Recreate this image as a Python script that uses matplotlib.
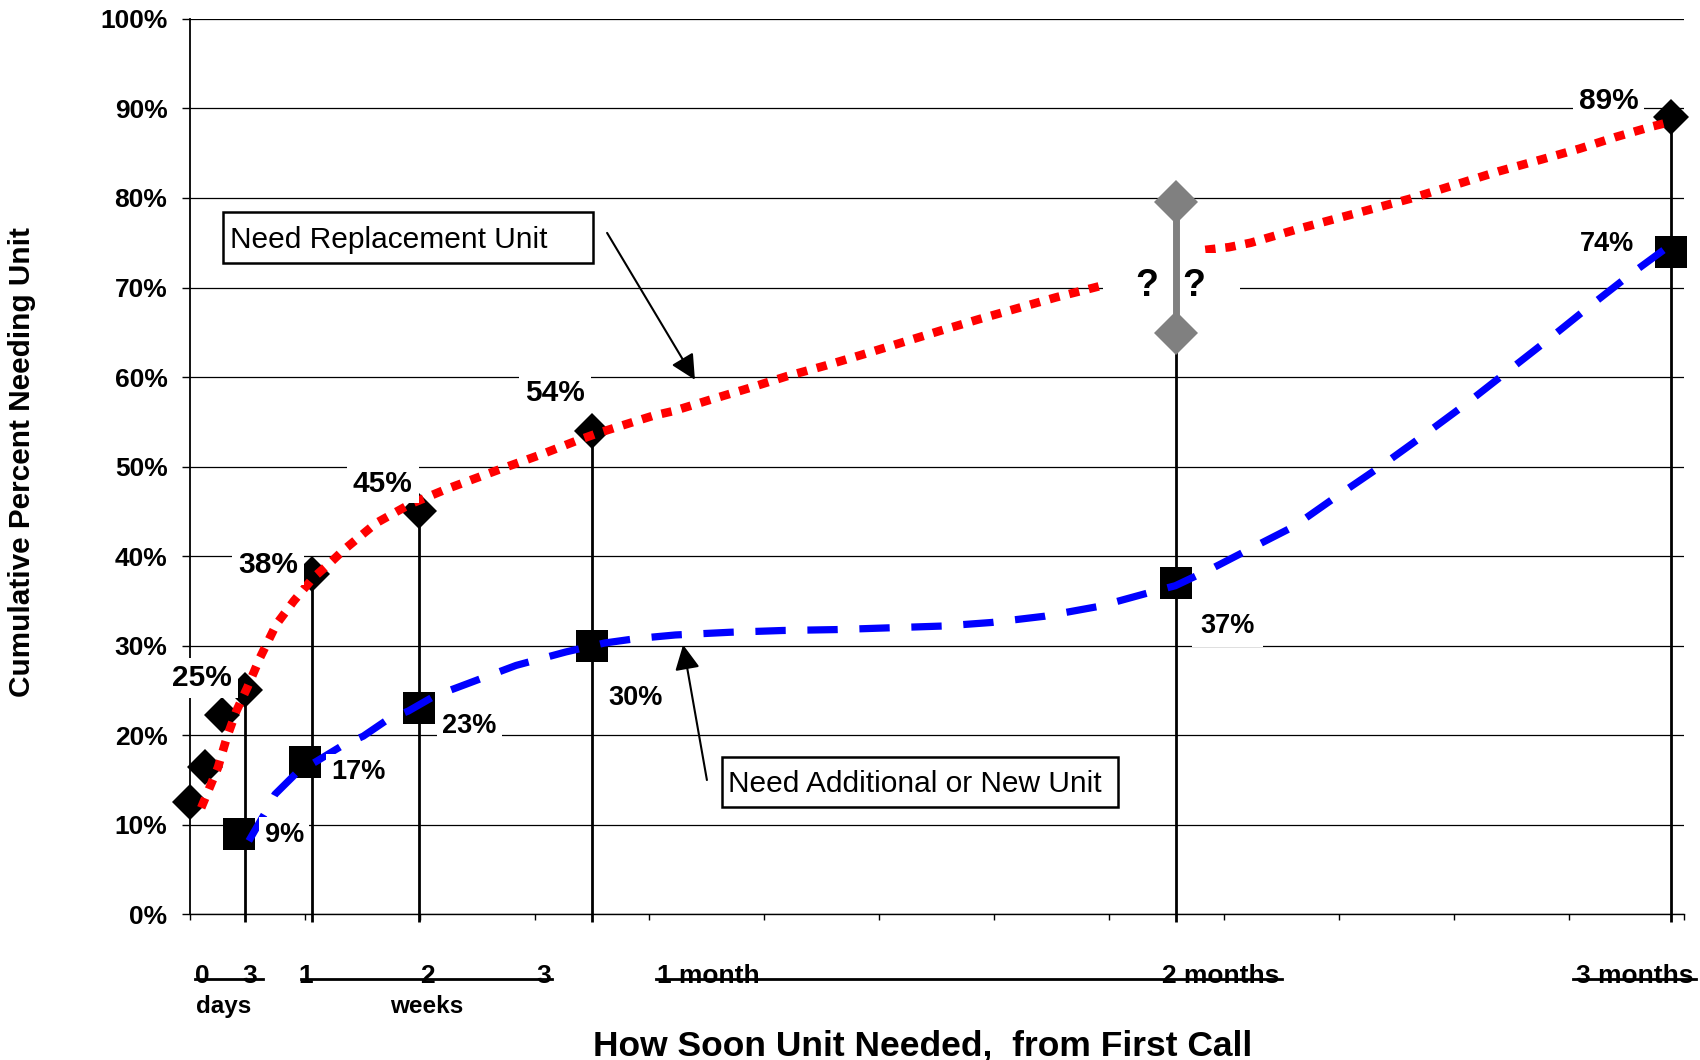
import matplotlib
matplotlib.use("Agg")
import matplotlib.pyplot as plt
from matplotlib.patches import Rectangle
import numpy as np

plt.rcParams['font.family'] = ['Liberation Sans', 'DejaVu Sans']

# ---------------- data (x = days since first call, y = cumulative %) ----------------
# Need Replacement Unit: survey points
repl_x = [0.0, 0.91, 1.94, 3.37, 7.43, 13.99, 24.52, 90.2]
repl_y = [12.5, 16.4, 22.3, 25, 38, 45, 54, 89]
repl_labeled = [False, False, False, True, True, True, True, True]

# Need Additional or New Unit: survey points
new_x = [3.02, 7.02, 13.99, 24.52, 60.05, 90.2]
new_y = [9, 17, 23, 30, 37, 74]

# smoothed trend for replacement units (two visible pieces around the "??" gap)
repl_curve_a_x = [0.7, 1.72, 2.25, 2.84, 3.50, 4.29, 5.28, 6.34, 7.53, 8.52, 9.38,
                  11.36, 13.41, 15.65, 18.89, 21.33, 23.58, 24.96, 28.26, 29.45,
                  31.76, 34.13, 36.38, 38.76, 41.14, 43.45, 45.76, 48.14, 50.45,
                  52.76, 55.53]
repl_curve_a_y = [11.9, 16.4, 19.7, 22.7, 25.3, 28.7, 32.4, 35.0, 37.6, 39.2, 40.7,
                  43.7, 45.8, 47.5, 49.7, 51.3, 52.9, 53.8, 55.7, 56.2,
                  57.5, 58.8, 60.1, 61.3, 62.6, 63.9, 65.2, 66.5, 67.7,
                  68.9, 70.2]
repl_curve_b_x = [61.85, 63.29, 64.63, 67.81, 74.3, 79.77, 82.33, 84.64, 86.84, 89.1, 90.2]
repl_curve_b_y = [74.2, 74.5, 75.0, 76.7, 79.9, 83.0, 84.3, 85.5, 86.8, 88.0, 88.5]

# smoothed trend for additional / new units
new_curve_x = [3.6, 4.58, 5.19, 6.51, 7.73, 9.25, 10.57, 12.09, 13.31, 14.93, 16.25,
               19.88, 22.9, 25.26, 27.22, 29.58, 32.89, 36.12, 39.36, 42.66, 45.90,
               48.87, 52.1, 55.4, 58.38, 60.03, 62.34, 64.45, 67.23, 69.87, 72.51,
               75.08, 77.66, 80.17, 82.75, 85.19, 87.77, 90.0]
new_curve_y = [8.2, 11.3, 13.4, 15.8, 17.1, 18.8, 19.9, 21.8, 22.7, 24.4, 25.3,
               27.8, 29.3, 30.3, 30.8, 31.2, 31.5, 31.7, 31.8, 32.0, 32.2,
               32.6, 33.3, 34.4, 35.9, 36.7, 38.7, 40.7, 43.3, 46.7, 50.0,
               53.4, 56.9, 60.5, 64.2, 67.8, 71.5, 74.5]

# uncertain range for replacement at two months
range_x = 60.05
range_lo, range_hi = 64.9, 79.6

# reference drop lines at the time milestones
drop_x = [3.37, 7.43, 13.99, 24.52, 60.05, 90.2]
drop_top = [25, 38, 45, 54, 62.8, 89]

# time-scale labels under the axis
time_labels = ['0', '3', '1', '2', '3', '1 month', '2 months', '3 months']
time_label_x = [0.76, 3.63, 7.07, 14.46, 21.59, 31.6, 62.77, 88.0]
unit_labels = ['days', 'weeks']
unit_label_x = [2.08, 14.43]
bracket_spans = [(0.33, 4.49), (6.78, 22.06), (28.4, 66.5), (84.27, 91.73)]

y_ticks = list(range(0, 101, 10))
y_tick_labels = [f'{t}%' for t in y_ticks]

# label offsets in points (dx, dy of text centre relative to the marker)
repl_label_off = {25: (-31.2, 11.2), 38: (-31.6, 8.2), 45: (-26.4, 22.0),
                  54: (-26.8, 28.8), 89: (-44.9, 13.5)}
new_label_off = {9: (32.4, 0.9), 17: (38.6, -5.5), 23: (36.1, -10.6),
                 30: (31.0, -35.4), 37: (37.2, -29.0), 74: (-46.1, 7.2)}

# ---------------- figure ----------------
fig = plt.figure(figsize=(17, 10.6), dpi=100)
ax = fig.add_axes([0.1116, 0.1374, 0.8789, 0.8448])
ax.set_xlim(0, 91)
ax.set_ylim(0, 100)

for s in ('top', 'right'):
    ax.spines[s].set_visible(False)
ax.spines['left'].set_linewidth(1.3)
ax.spines['bottom'].set_linewidth(1.0)

ax.set_yticks(y_ticks)
ax.set_yticklabels(y_tick_labels, fontsize=19, fontweight='bold')
ax.tick_params(axis='y', direction='out', length=6, width=1, pad=10)
ax.set_xticks(np.arange(0, 92, 7))
ax.set_xticklabels([])
ax.tick_params(axis='x', direction='out', length=4, width=1)
ax.yaxis.grid(True, color='black', lw=0.9)
ax.set_axisbelow(True)

# drop lines
ax.vlines(drop_x, -0.85, drop_top, colors='black', lw=2, clip_on=False, zorder=2)

# markers
ax.plot(repl_x, repl_y, 'D', ms=18.5, color='black', mew=0, zorder=3, clip_on=False)
ax.plot(new_x, new_y, 's', ms=23, color='black', mew=0, zorder=3, clip_on=False)

# trend curves
red_style = dict(color='#ff0000', lw=6.2, ls=(0, (1.2, 1.15)), dash_capstyle='butt',
                 zorder=4, solid_capstyle='butt')
ax.plot(repl_curve_a_x, repl_curve_a_y, **red_style)
ax.plot(repl_curve_b_x, repl_curve_b_y, **red_style)
ax.plot(new_curve_x, new_curve_y, color='#0000ff', lw=5.2, ls=(0, (4.2, 3.0)),
        dash_capstyle='butt', zorder=4)

# "? ?" region with the uncertain range bar
ax.add_patch(Rectangle((55.64, 62.8), 63.97 - 55.64, 73.9 - 62.8, facecolor='white',
                       edgecolor='none', zorder=4.5))
ax.plot([range_x, range_x], [range_lo, range_hi], color='#808080', lw=5,
        marker='D', ms=22, mew=0, zorder=5)
for qx in (58.31, 61.15):
    ax.annotate('?', xy=(qx, 70.57), xytext=(0, -0.72 * 27 / 2), textcoords='offset points',
                ha='center', va='baseline', fontsize=27, fontweight='bold', zorder=6)


def value_label(x, y, text, off, fs, pad=0.2):
    cap = 0.716 * fs
    ax.annotate(text, xy=(x, y), xytext=(off[0], off[1] - cap / 2),
                textcoords='offset points', ha='center', va='baseline',
                fontsize=fs, fontweight='bold', zorder=7, annotation_clip=False,
                bbox=dict(boxstyle=f'square,pad={pad}', fc='white', ec='none'))


for x, y, lab in zip(repl_x, repl_y, repl_labeled):
    if lab:
        value_label(x, y, f'{y}%', repl_label_off[y], 21.5)
for x, y in zip(new_x, new_y):
    value_label(x, y, f'{y}%', new_label_off[y], 19.5, pad=0.3 if y == 37 else 0.2)

# boxed captions with arrows
def caption(x0, y0, x1, y1, tx, ty, text):
    ax.add_patch(Rectangle((x0, y0), x1 - x0, y1 - y0, facecolor='white',
                           edgecolor='black', lw=1.8, zorder=6, clip_on=False))
    ax.annotate(text, xy=(tx, ty), xytext=(0, -0.716 * 21.5 / 2), textcoords='offset points',
                ha='left', va='baseline', fontsize=21.5, zorder=7)


caption(2.01, 72.7, 24.57, 78.45, 2.44, 75.58, 'Need Replacement Unit')
caption(32.42, 12.03, 56.53, 17.6, 32.79, 14.82, 'Need Additional or New Unit')

arrow = dict(arrowstyle='-|>', color='black', lw=1.5, mutation_scale=38,
             shrinkA=0, shrinkB=0)
ax.annotate('', xy=(30.77, 59.7), xytext=(25.42, 76.1), arrowprops=arrow, zorder=6)
ax.annotate('', xy=(30.05, 30.1), xytext=(31.5, 15.0), arrowprops=arrow, zorder=6)

# time-scale labels
for t, x in zip(time_labels, time_label_x):
    ax.text(x, -7.7, t, ha='center', va='baseline', fontsize=19, fontweight='bold',
            clip_on=False)
for t, x in zip(unit_labels, unit_label_x):
    ax.text(x, -11.05, t, ha='center', va='baseline', fontsize=17.5, fontweight='bold',
            clip_on=False)
for a, b in bracket_spans:
    ax.plot([a, b], [-7.22, -7.22], color='black', lw=2, clip_on=False, zorder=3)

fig.text(0.5427, 0.0046, 'How Soon Unit Needed,  from First Call', ha='center',
         va='baseline', fontsize=25.5, fontweight='bold')
fig.text(0.0132, 0.5638, 'Cumulative Percent Needing Unit', rotation=90, ha='center',
         va='center', fontsize=21.4, fontweight='bold')

fig.savefig('out.png', dpi=100)
